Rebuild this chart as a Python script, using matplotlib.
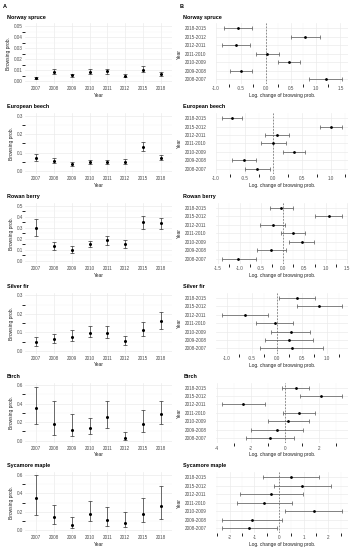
import numpy as np
import matplotlib.pyplot as plt
from matplotlib.ticker import FormatStrFormatter, MultipleLocator

plt.rcParams['font.family'] = ['Liberation Sans', 'DejaVu Sans']
plt.rcParams['axes.unicode_minus'] = False

species = ['Norway spruce', 'European beech', 'Rowan berry', 'Silver fir', 'Birch', 'Sycamore maple']
years = ['2007', '2008', '2009', '2010', '2011', '2012', '2015', '2018']
# top to bottom as in the panels
periods = ['2018-2015', '2015-2012', '2012-2011', '2011-2010', '2010-2009', '2009-2008', '2008-2007']

# A: browsing probability per year (estimate, lower, upper)
spruce_prob = [0.003, 0.0085, 0.0055, 0.0088, 0.009, 0.005, 0.0106, 0.0067]
spruce_low = [0.002, 0.0064, 0.0042, 0.007, 0.0067, 0.0036, 0.0085, 0.005]
spruce_high = [0.004, 0.011, 0.007, 0.011, 0.0115, 0.007, 0.014, 0.0088]

beech_prob = [0.072, 0.056, 0.038, 0.049, 0.049, 0.052, 0.132, 0.072]
beech_low = [0.054, 0.045, 0.029, 0.038, 0.038, 0.040, 0.110, 0.060]
beech_high = [0.092, 0.070, 0.047, 0.061, 0.061, 0.065, 0.159, 0.087]

rowan_prob = [0.30, 0.132, 0.10, 0.157, 0.19, 0.154, 0.35, 0.34]
rowan_low = [0.23, 0.10, 0.07, 0.13, 0.145, 0.12, 0.29, 0.286]
rowan_high = [0.376, 0.169, 0.135, 0.184, 0.23, 0.19, 0.406, 0.39]

fir_prob = [0.047, 0.063, 0.076, 0.098, 0.096, 0.052, 0.114, 0.159]
fir_low = [0.027, 0.040, 0.052, 0.072, 0.067, 0.033, 0.081, 0.118]
fir_high = [0.076, 0.092, 0.110, 0.132, 0.132, 0.080, 0.154, 0.210]

birch_prob = [0.354, 0.18, 0.115, 0.137, 0.256, 0.03, 0.18, 0.29]
birch_low = [0.18, 0.06, 0.047, 0.069, 0.14, 0.01, 0.097, 0.18]
birch_high = [0.58, 0.433, 0.285, 0.25, 0.433, 0.094, 0.336, 0.433]

maple_prob = [0.354, 0.145, 0.058, 0.18, 0.112, 0.083, 0.18, 0.26]
maple_low = [0.166, 0.069, 0.025, 0.097, 0.047, 0.040, 0.087, 0.123]
maple_high = [0.603, 0.278, 0.145, 0.314, 0.253, 0.195, 0.347, 0.477]

# B: log change of browsing probability (estimate, lower, upper), same order as periods
spruce_chg = [-0.56, 0.78, -0.60, 0.03, 0.46, -0.50, 1.20]
spruce_chg_low = [-0.85, 0.50, -0.89, -0.19, 0.25, -0.72, 0.87]
spruce_chg_high = [-0.28, 1.08, -0.31, 0.27, 0.69, -0.28, 1.54]

beech_chg = [-0.72, 1.00, 0.06, 0.00, 0.35, -0.51, -0.28]
beech_chg_low = [-0.90, 0.81, -0.15, -0.21, 0.16, -0.72, -0.50]
beech_chg_high = [-0.54, 1.20, 0.28, 0.22, 0.55, -0.31, -0.05]

rowan_chg = [-0.03, 1.08, -0.23, 0.24, 0.44, -0.26, -1.03]
rowan_chg_low = [-0.30, 0.76, -0.53, -0.03, 0.14, -0.60, -1.42]
rowan_chg_high = [0.23, 1.39, 0.06, 0.53, 0.73, 0.07, -0.62]

fir_chg = [0.40, 0.85, -0.63, -0.04, 0.28, 0.25, 0.30]
fir_chg_low = [0.04, 0.40, -1.10, -0.41, -0.11, -0.23, -0.33]
fir_chg_high = [0.76, 1.31, -0.17, 0.33, 0.67, 0.72, 0.93]

birch_chg = [0.61, 2.08, -2.47, 0.82, 0.18, -0.51, -0.90]
birch_chg_low = [-0.18, 0.84, -3.75, -0.14, -1.00, -2.00, -2.29]
birch_chg_high = [1.41, 3.35, -1.20, 1.75, 1.37, 1.02, 0.51]

maple_chg = [0.48, 0.94, -0.32, -0.61, 1.40, -1.09, -1.21]
maple_chg_low = [-0.65, -0.19, -1.58, -1.72, 0.26, -2.30, -2.33]
maple_chg_high = [1.60, 2.09, 0.98, 0.53, 2.57, 0.13, -0.08]

prob_series = [
    (spruce_prob, spruce_low, spruce_high),
    (beech_prob, beech_low, beech_high),
    (rowan_prob, rowan_low, rowan_high),
    (fir_prob, fir_low, fir_high),
    (birch_prob, birch_low, birch_high),
    (maple_prob, maple_low, maple_high),
]
chg_series = [
    (spruce_chg, spruce_chg_low, spruce_chg_high),
    (beech_chg, beech_chg_low, beech_chg_high),
    (rowan_chg, rowan_chg_low, rowan_chg_high),
    (fir_chg, fir_chg_low, fir_chg_high),
    (birch_chg, birch_chg_low, birch_chg_high),
    (maple_chg, maple_chg_low, maple_chg_high),
]

prob_max = [0.05, 0.3, 0.5, 0.3, 0.6, 0.6]
prob_step = [0.01, 0.1, 0.1, 0.1, 0.2, 0.2]
prob_fmt = ['%.2f', '%.1f', '%.1f', '%.1f', '%.1f', '%.1f']
chg_step = [0.5, 0.5, 0.5, 0.5, 2, 1]
chg_fmt = ['%.1f', '%.1f', '%.1f', '%.1f', '%d', '%d']

W, H = 354, 550
fig = plt.figure(figsize=(W / 100, H / 100), dpi=100)

grid_col = '#EBEBEB'
text_col = '#4D4D4D'
fs_tick = 3.3
fs_lab = 3.5
fs_title = 3.9


def style(ax, pad=1.6):
    for s in ax.spines.values():
        s.set_visible(False)
    ax.tick_params(length=0, labelsize=fs_tick, labelcolor=text_col, pad=1.6)
    ax.grid(True, which='major', color=grid_col, lw=0.5)
    ax.grid(True, which='minor', color='#F3F3F3', lw=0.3)
    ax.set_axisbelow(True)


panel_h = 60.8
for i, name in enumerate(species):
    top = 23.3 + i * 89.8
    bottom = 1 - (top + panel_h) / H

    # A panel
    ax = fig.add_axes([25.3 / W, bottom, 146.4 / W, panel_h / H])
    est, lo, hi = [np.array(v) for v in prob_series[i]]
    x = np.arange(len(years))
    ax.errorbar(x, est, yerr=[est - lo, hi - est], fmt='o', ms=1.2, color='black',
                ecolor='#333333', elinewidth=0.5, capsize=1.6, capthick=0.5)
    ymax = prob_max[i]
    ax.set_ylim(-0.05 * ymax, 1.05 * ymax)
    ax.set_xlim(-0.6, len(years) - 0.4)
    ax.set_xticks(x)
    ax.set_xticklabels(years)
    ax.yaxis.set_major_locator(MultipleLocator(prob_step[i]))
    ax.yaxis.set_minor_locator(MultipleLocator(prob_step[i] / 2))
    ax.yaxis.set_major_formatter(FormatStrFormatter(prob_fmt[i]))
    style(ax)
    ax.grid(False, axis='x', which='minor')
    ax.set_xlabel('Year', fontsize=fs_lab, color='#222222', labelpad=1.2)
    ax.set_ylabel('Browsing prob.', fontsize=fs_lab, color='#222222', labelpad=2)
    fig.text(7 / W, 1 - (top - 6.3) / H, name, fontsize=fs_title, weight='bold', va='center')

    # B panel
    bx = fig.add_axes([215.5 / W, bottom, 133 / W, panel_h / H])
    est, lo, hi = [np.array(v) for v in chg_series[i]]
    y = np.arange(len(periods))
    bx.axvline(0, color='#666666', lw=0.5, ls=(0, (2.5, 2)))
    bx.errorbar(est, y, xerr=[est - lo, hi - est], fmt='o', ms=1.0, color='black',
                ecolor='#555555', elinewidth=0.5, capsize=1.3, capthick=0.5)
    span = hi.max() - lo.min()
    bx.set_xlim(lo.min() - 0.05 * span, hi.max() + 0.05 * span)
    bx.set_ylim(len(periods) - 0.4, -0.6)
    bx.set_yticks(y)
    bx.set_yticklabels(periods)
    bx.xaxis.set_major_locator(MultipleLocator(chg_step[i]))
    bx.xaxis.set_minor_locator(MultipleLocator(chg_step[i] / 2))
    bx.xaxis.set_major_formatter(FormatStrFormatter(chg_fmt[i]))
    style(bx)
    bx.tick_params(axis='y', pad=6.5)
    bx.grid(False, axis='y', which='minor')
    bx.set_xlabel('Log. change of browsing prob.', fontsize=fs_lab, color='#222222', labelpad=1.2)
    bx.set_ylabel('Year', fontsize=fs_lab, color='#222222', labelpad=2)
    fig.text(183.3 / W, 1 - (top - 6.3) / H, name, fontsize=fs_title, weight='bold', va='center')

fig.text(3 / W, 1 - 6 / H, 'A', fontsize=4.0, weight='bold', va='center')
fig.text(180 / W, 1 - 6 / H, 'B', fontsize=4.0, weight='bold', va='center')

fig.savefig('out.png', dpi=100)
